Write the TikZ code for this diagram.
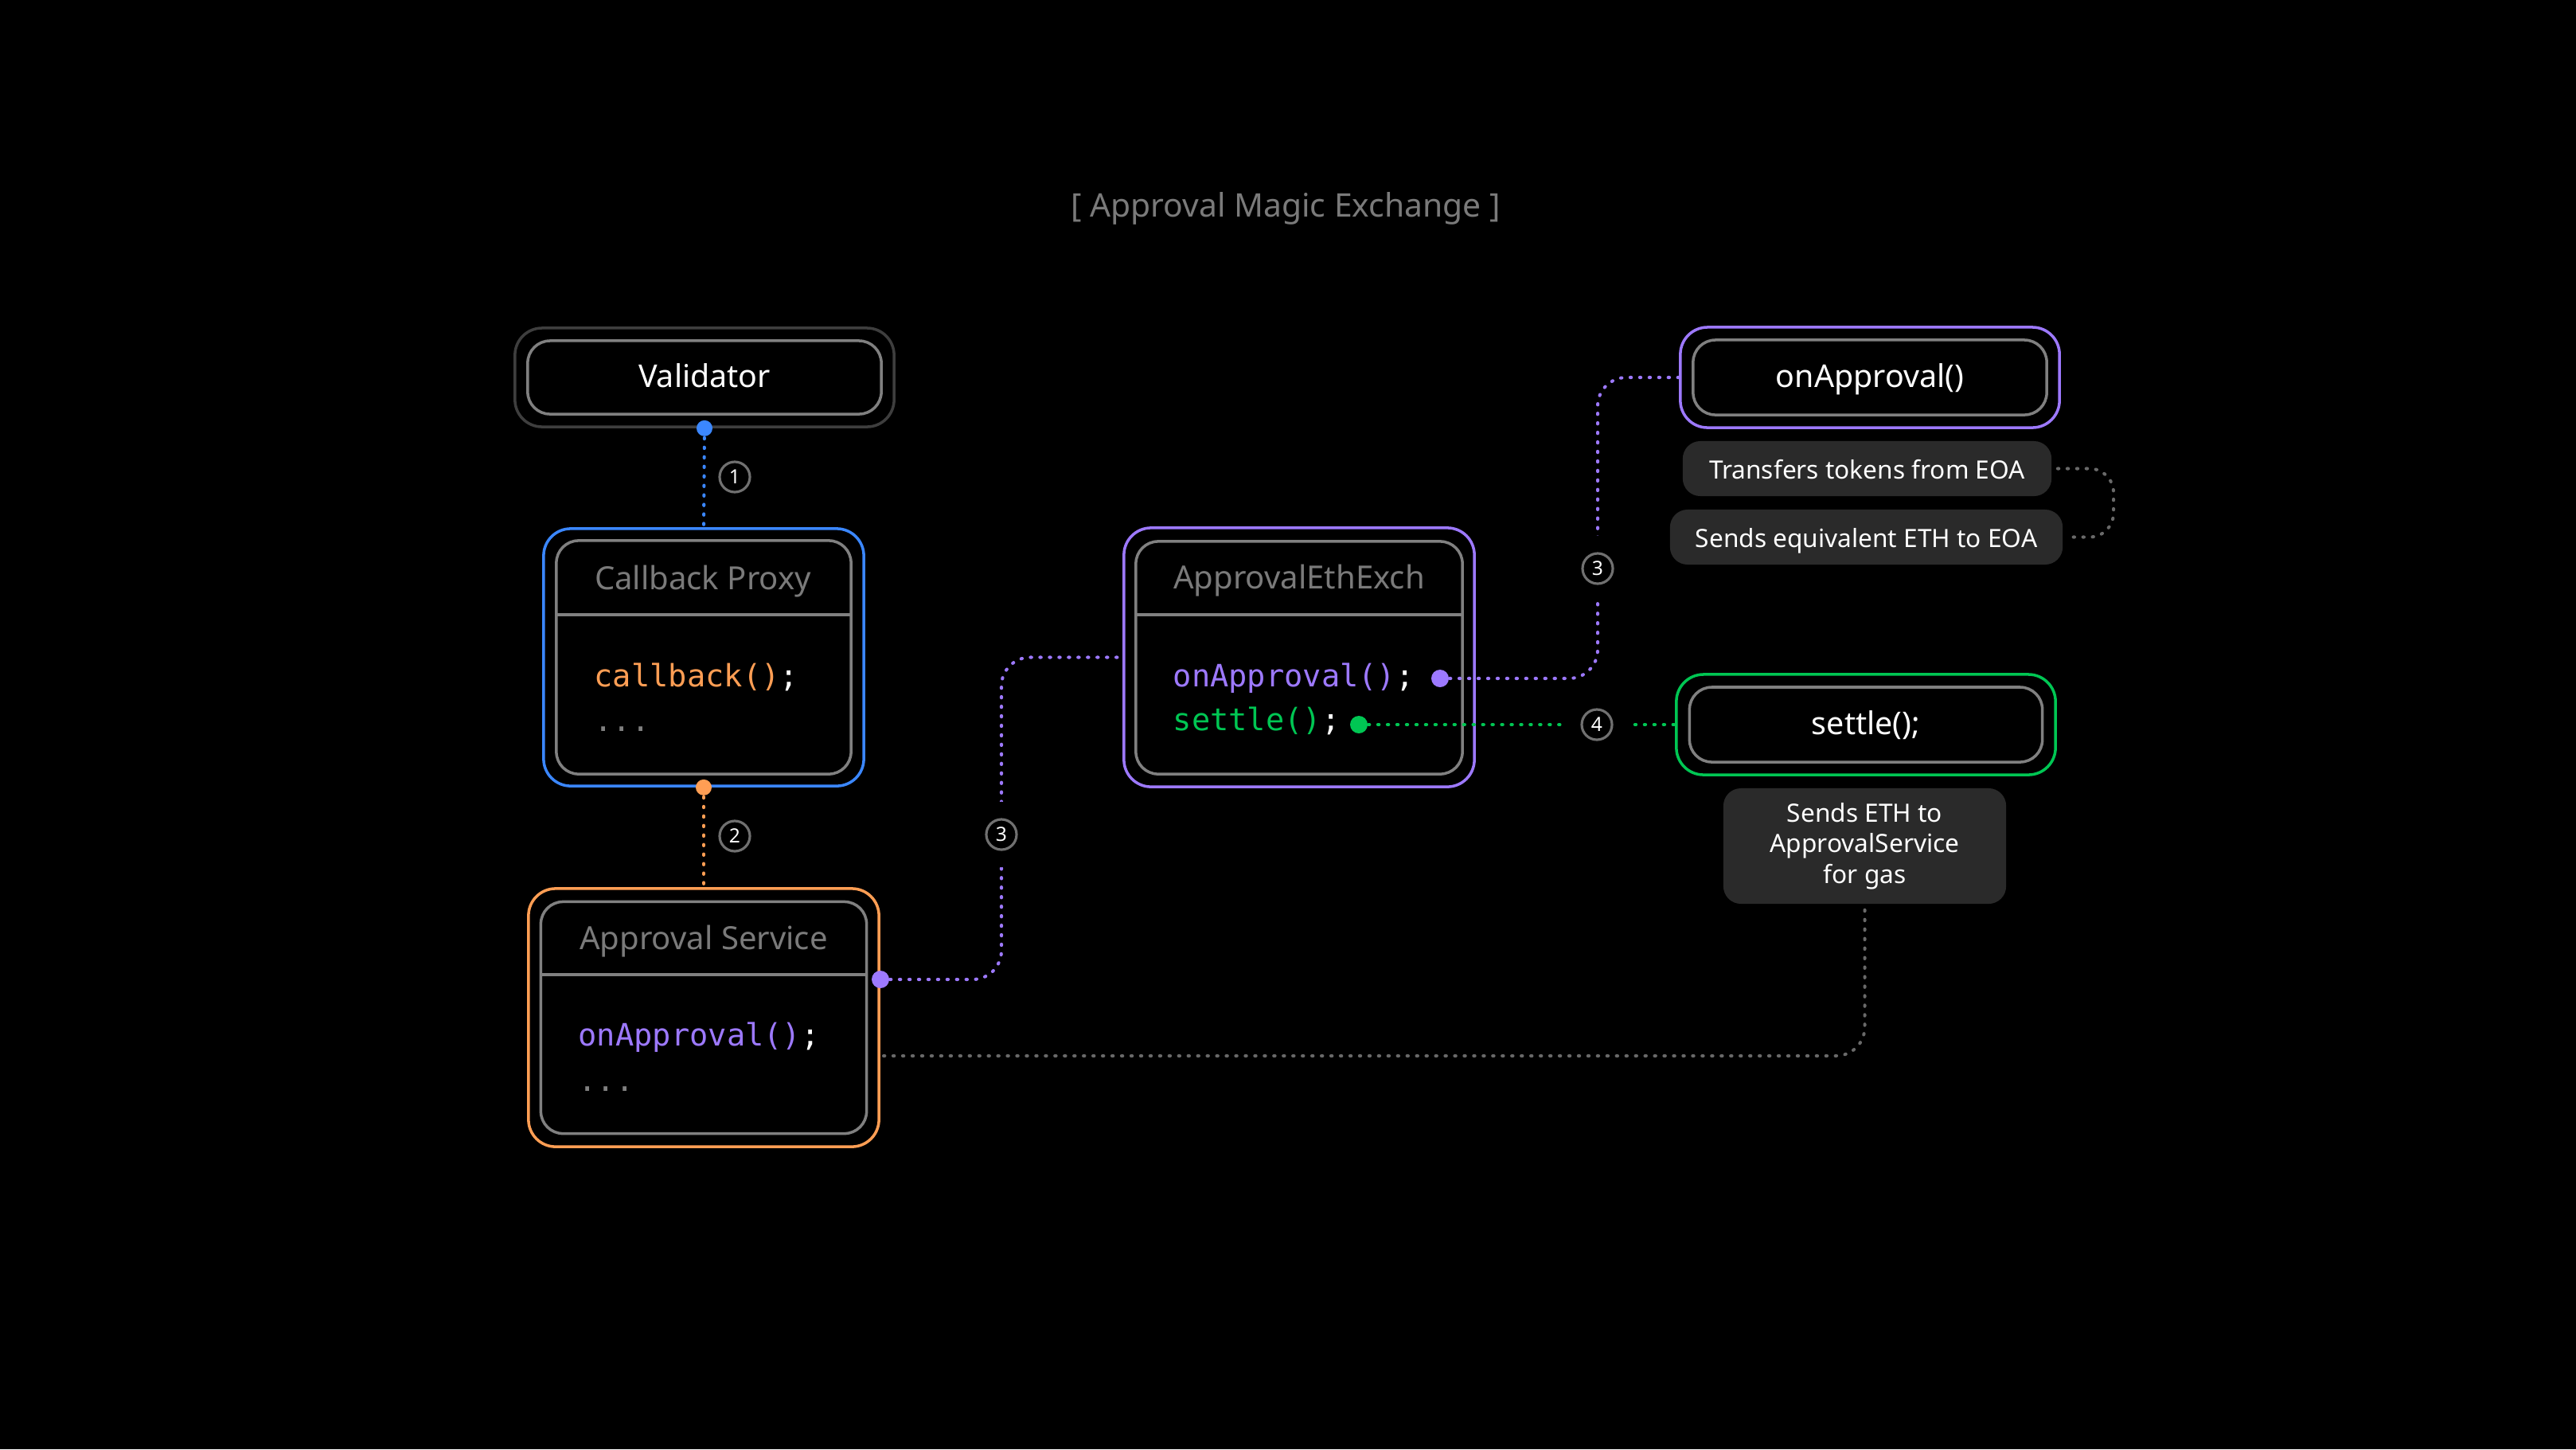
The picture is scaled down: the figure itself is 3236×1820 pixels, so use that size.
\documentclass[tikz,border=0pt]{standalone}
\usepackage{fontspec}
\setmainfont{Noto Sans}
\setmonofont{DejaVu Sans Mono}
\usetikzlibrary{calc}
\definecolor{cblue}{RGB}{59,135,255}
\definecolor{corange}{RGB}{255,158,84}
\definecolor{cpurple}{RGB}{157,121,255}
\definecolor{cgreen}{RGB}{0,198,83}
\definecolor{cgray}{RGB}{128,128,128}
\definecolor{cdark}{RGB}{62,62,62}
\definecolor{ctitle}{RGB}{122,122,122}
\definecolor{cring}{RGB}{112,112,112}
\definecolor{cpill}{RGB}{42,42,42}
\definecolor{cline}{RGB}{105,105,105}
\begin{document}
\begin{tikzpicture}[x=0.01cm,y=-0.01cm,
  outerbox/.style={draw, rectangle, rounded corners=0.34cm, line width=1pt, inner sep=0pt},
  innerbox/.style={draw=cgray, rectangle, rounded corners=0.28cm, line width=1pt, inner sep=0pt, text=white, font=\fontsize{11.2}{13}\selectfont, text height=0.72em, text depth=0pt},
  divider/.style={draw=cgray, line width=1pt},
  boxtitle/.style={anchor=base, inner sep=0pt, text=ctitle, font=\fontsize{11.4}{13}\selectfont},
  code/.style={anchor=base west, inner sep=0pt, text=white, font=\ttfamily\fontsize{11}{13}\selectfont},
  pill/.style={rectangle, rounded corners=0.22cm, fill=cpill, inner sep=0pt, text=white, font=\fontsize{9}{10.95}\selectfont, align=center},
  onepill/.style={pill, text height=0.72em, text depth=0pt, minimum height=0.69cm},
  conn/.style={line width=1.15pt, line cap=round, dash pattern=on 0.4pt off 3.0pt},
  numc/.style={circle, draw=cring, line width=0.9pt, fill=black, minimum size=0.38cm, inner sep=0pt, text=white, font=\fontsize{7}{8}\selectfont},
  numcut/.style={numc, preaction={draw=black, line width=12.5pt}}]
\path[fill=black, use as bounding box] (0,0) rectangle (3236,1820);

\node[boxtitle, font=\fontsize{11.6}{13}\selectfont] (title) at (1615,272) {[ Approval Magic Exchange ]};

% Validator
\node[outerbox, draw=cdark, minimum width=4.76cm, minimum height=1.24cm] (vo) at (885,474) {};
\node[innerbox, minimum width=4.44cm, minimum height=0.92cm] (vi) at (885,474) {Validator};

% Callback Proxy
\node[outerbox, draw=cblue, minimum width=4.02cm, minimum height=3.23cm] (cbo) at (884,825.5) {};
\node[innerbox, minimum width=3.70cm, minimum height=2.93cm] (cbi) at (884,825.5) {};
\draw[divider] (699,772) -- (1069,772);
\node[boxtitle] (cbt) at (883,740) {Callback Proxy};
\node[code] (cbc) at (746,862) {\textcolor{corange}{callback()};};
\node[code, text=cgray] (cbd) at (746,918) {...};

% Approval Service
\node[outerbox, draw=corange, minimum width=4.40cm, minimum height=3.24cm] (aso) at (884,1278) {};
\node[innerbox, minimum width=4.09cm, minimum height=2.91cm] (asi) at (884,1278) {};
\draw[divider] (679.5,1224) -- (1088.5,1224);
\node[boxtitle] (ast) at (884,1192) {Approval Service};
\node[code] (asc) at (726,1313) {\textcolor{cpurple}{onApproval()};};
\node[code, text=cgray] (asdd) at (726,1370) {...};

% ApprovalEthExch
\node[outerbox, draw=cpurple, minimum width=4.40cm, minimum height=3.25cm] (aeo) at (1632,825.5) {};
\node[innerbox, minimum width=4.10cm, minimum height=2.92cm] (aei) at (1632,826) {};
\draw[divider] (1427,772) -- (1837,772);
\node[boxtitle] (aet) at (1632,739) {ApprovalEthExch};
\node[code] (aec1) at (1473,862) {\textcolor{cpurple}{onApproval()};};
\node[code] (aec2) at (1473,917) {\textcolor{cgreen}{settle()};};

% onApproval()
\node[outerbox, draw=cpurple, minimum width=4.76cm, minimum height=1.26cm] (oao) at (2349,474) {};
\node[innerbox, minimum width=4.44cm, minimum height=0.94cm] (oai) at (2349,474) {onApproval()};

% settle();
\node[outerbox, draw=cgreen, minimum width=4.76cm, minimum height=1.26cm] (sto) at (2344,910) {};
\node[innerbox, minimum width=4.43cm, minimum height=0.94cm] (sti) at (2344,910) {settle();};

% pills
\node[onepill, minimum width=4.63cm] (p1) at (2345.5,588.5) {Transfers tokens from EOA};
\node[onepill, minimum width=4.93cm] (p2) at (2344.5,674.5) {Sends equivalent ETH to EOA};
\node[pill, minimum width=3.55cm, minimum height=1.45cm] (p3) at (2342.5,1062.5) {Sends ETH to\\ApprovalService\\for gas};

% connectors
\coordinate (vdot) at (vo.south);
\draw[conn, cblue] (vdot) -- (cbo.north);
\coordinate (cbdot) at (cbo.south);
\draw[conn, corange] (cbdot) -- (aso.north);
\coordinate (asdot) at (1106,1230);
\draw[conn, cpurple, rounded corners=0.36cm] (asdot) -- (1258,1230) |- (aeo.west);
\coordinate (aedot) at (1809,852);
\draw[conn, cpurple, rounded corners=0.36cm] (aedot) -- (2007,852) |- (oao.west);
\coordinate (agdot) at (1707,910);
\draw[conn, cgreen] (agdot) -- (sto.west);
\draw[conn, cline, rounded corners=0.3cm] ([xshift=0.07cm]p1.east) -- (2655,588.5) -- (2655,674.5) -- ([xshift=0.07cm]p2.east);
\coordinate (asgray) at (1110,1326);
\draw[conn, cline, rounded corners=0.36cm] ([yshift=-0.07cm]p3.south) |- (asgray);

% end dots
\fill[cblue] (vdot) circle (0.1cm);
\fill[corange] (cbdot) circle (0.1cm);
\fill[cpurple] (asdot) circle (0.11cm);
\fill[cpurple] (aedot) circle (0.11cm);
\fill[cgreen] (agdot) circle (0.11cm);

% step numbers
\node[numc] (n1) at (923,599) {1};
\node[numc] (n2) at (923,1050) {2};
\node[numcut] (n3a) at (1258,1048) {3};
\node[numcut] (n3b) at (2007,714) {3};
\node[numcut] (n4) at (2006,910) {4};
\end{tikzpicture}
\end{document}
